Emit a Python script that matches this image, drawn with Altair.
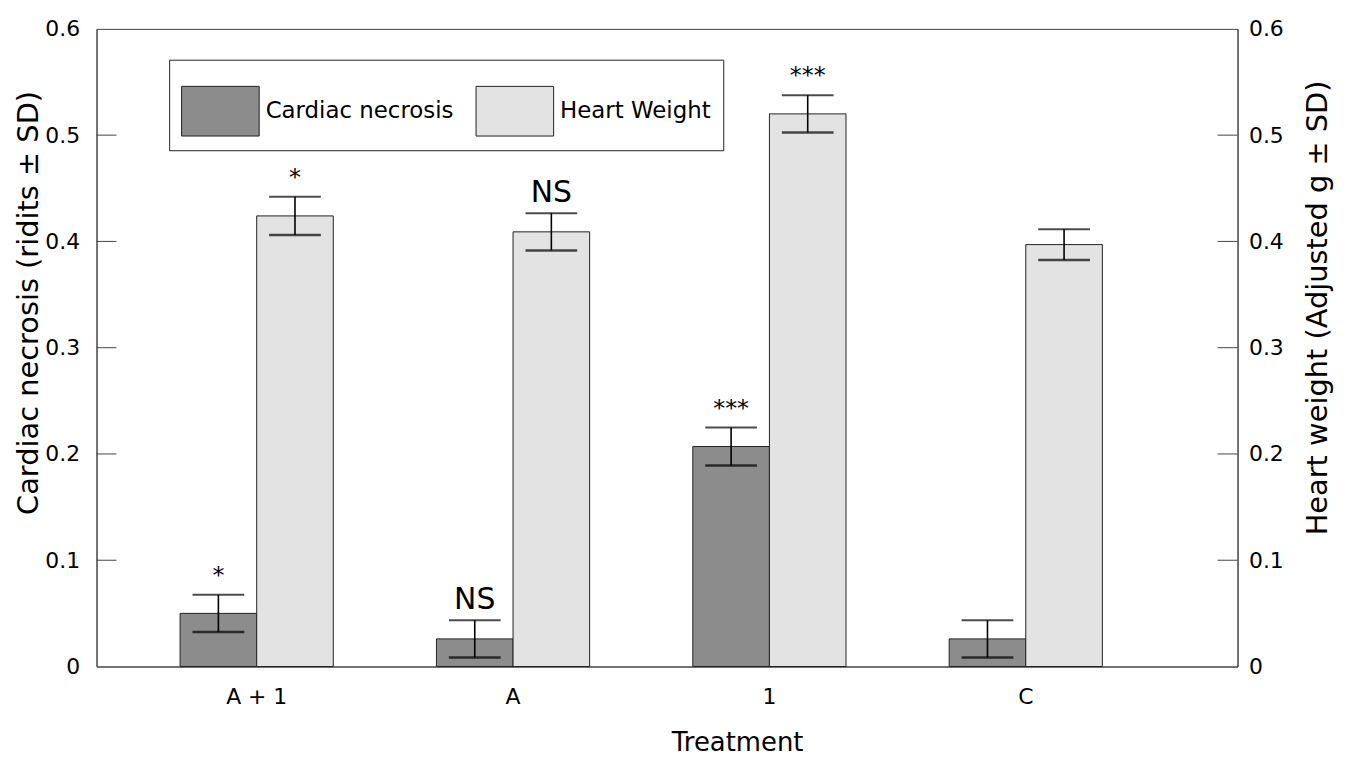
import altair as alt
import pandas as pd

# ---- data ----
treatments = ["A + 1", "A", "1", "C"]
series_names = ["Cardiac necrosis", "Heart Weight"]
necrosis_mean = [0.050, 0.026, 0.207, 0.026]
necrosis_sd = [0.0175, 0.0175, 0.0178, 0.0175]
necrosis_sig = ["*", "NS", "***", ""]
heart_mean = [0.424, 0.409, 0.520, 0.397]
heart_sd = [0.018, 0.0175, 0.0175, 0.0145]
heart_sig = ["*", "NS", "***", ""]
axis_ticks = [0.1, 0.2, 0.3, 0.4, 0.5]

rows = []
for i, t in enumerate(treatments):
    rows.append(dict(treatment=t, series=series_names[0], mean=necrosis_mean[i],
                     sd=necrosis_sd[i], sig=necrosis_sig[i]))
    rows.append(dict(treatment=t, series=series_names[1], mean=heart_mean[i],
                     sd=heart_sd[i], sig=heart_sig[i]))
df = pd.DataFrame(rows)
df["lo"] = df["mean"] - df["sd"]
df["hi"] = df["mean"] + df["sd"]
ticks_df = pd.DataFrame({"v": axis_ticks})

W, H = 1147, 641
FONT = "DejaVu Sans"

yscale = alt.Scale(domain=[0, 0.6], nice=False, zero=True)
xenc = alt.X("treatment:N", sort=treatments,
             scale=alt.Scale(domain=treatments, paddingInner=0.4024,
                             paddingOuter=0.4266, align=0.382),
             axis=alt.Axis(title="Treatment", labelAngle=0, ticks=False,
                           labelFontSize=22, labelPadding=20, labelColor="black",
                           domainColor="#444", titleFontSize=26,
                           titleFontWeight="normal", titleColor="black",
                           titleX=644, titleY=84, titleAlign="center",
                           titleBaseline="alphabetic"))
xoff = alt.XOffset("series:N", scale=alt.Scale(domain=series_names,
                                                paddingInner=0, paddingOuter=0))

left_axis = alt.Axis(title="Cardiac necrosis (ridits ± SD)", values=[0, 0.1, 0.2, 0.3, 0.4, 0.5, 0.6],
                     labelExpr="datum.value == 0 ? '0' : format(datum.value, '.1f')",
                     ticks=False, grid=False, labelFontSize=22, labelPadding=17,
                     labelColor="black", domainColor="#444",
                     titleFontSize=29, titleFontWeight="normal", titleColor="black",
                     titleAngle=270, titleX=-68, titleY=275, titleAlign="center",
                     titleBaseline="middle")
right_axis = alt.Axis(title="Heart weight (Adjusted g ± SD)", orient="right",
                      values=[0, 0.1, 0.2, 0.3, 0.4, 0.5, 0.6],
                      labelExpr="datum.value == 0 ? '0' : format(datum.value, '.1f')",
                      ticks=False, grid=False, labelFontSize=22, labelPadding=11,
                      labelColor="black", domainColor="#444",
                      titleFontSize=29, titleFontWeight="normal", titleColor="black",
                      titleAngle=270, titleX=80, titleY=280, titleAlign="center",
                      titleBaseline="middle")

base = alt.Chart(df)

bars = base.mark_bar(stroke="#222", strokeWidth=1).encode(
    x=xenc, xOffset=xoff,
    y=alt.Y("mean:Q", scale=yscale, axis=left_axis),
    fill=alt.Fill("series:N", scale=alt.Scale(domain=series_names,
                                              range=["#8c8c8c", "#e3e3e3"]),
                  legend=alt.Legend(title=None, orient="none", legendX=73, legendY=31,
                                    direction="horizontal",
                                    symbolType="M-1,-0.64L1,-0.64L1,0.64L-1,0.64Z",
                                    symbolSize=6084, symbolStrokeColor="#222",
                                    symbolStrokeWidth=1, symbolOpacity=1,
                                    labelFontSize=23, labelColor="black",
                                    labelOffset=6, columnPadding=20, padding=12,
                                    strokeColor="#222", fillColor="white",
                                    labelLimit=0)),
)

stems = base.mark_rule(color="black", strokeWidth=1.6).encode(
    x=xenc, xOffset=xoff, y=alt.Y("lo:Q", scale=yscale), y2="hi:Q")
caps_hi = base.mark_tick(color="black", thickness=2, size=52).encode(
    x=xenc, xOffset=xoff, y=alt.Y("hi:Q", scale=yscale))
caps_lo = base.mark_tick(color="black", thickness=2.4, size=52).encode(
    x=xenc, xOffset=xoff, y=alt.Y("lo:Q", scale=yscale))

stars = base.transform_filter("indexof(datum.sig, '*') >= 0").mark_text(
    fontSize=24, dy=-12, baseline="alphabetic", color="black").encode(
    x=xenc, xOffset=xoff, y=alt.Y("hi:Q", scale=yscale), text="sig:N")
ns = base.transform_filter("datum.sig == 'NS'").mark_text(
    fontSize=30, dy=-11, baseline="alphabetic", color="black").encode(
    x=xenc, xOffset=xoff, y=alt.Y("hi:Q", scale=yscale), text="sig:N")

lticks = alt.Chart(ticks_df).mark_rule(color="#444", strokeWidth=1).encode(
    y=alt.Y("v:Q", scale=yscale), x=alt.value(0), x2=alt.value(20))
rticks = alt.Chart(ticks_df).mark_rule(color="#444", strokeWidth=1).encode(
    y=alt.Y("v:Q", scale=yscale), x=alt.value(W - 20), x2=alt.value(W))

main = alt.layer(bars, stems, caps_hi, caps_lo, stars, ns, lticks, rticks)

right = base.mark_point(opacity=0).encode(
    x=xenc, y=alt.Y("mean:Q", scale=yscale, axis=right_axis))

chart = alt.layer(main, right).resolve_scale(y="independent").properties(
    width=W, height=H,
    autosize=alt.AutoSizeParams(type="none"),
    padding={"left": 89, "top": 19, "right": 104, "bottom": 92},
).configure(font=FONT).configure_view(stroke="#444", strokeWidth=1)

chart.save("out.html", embed_options={"renderer": "svg", "actions": False})
